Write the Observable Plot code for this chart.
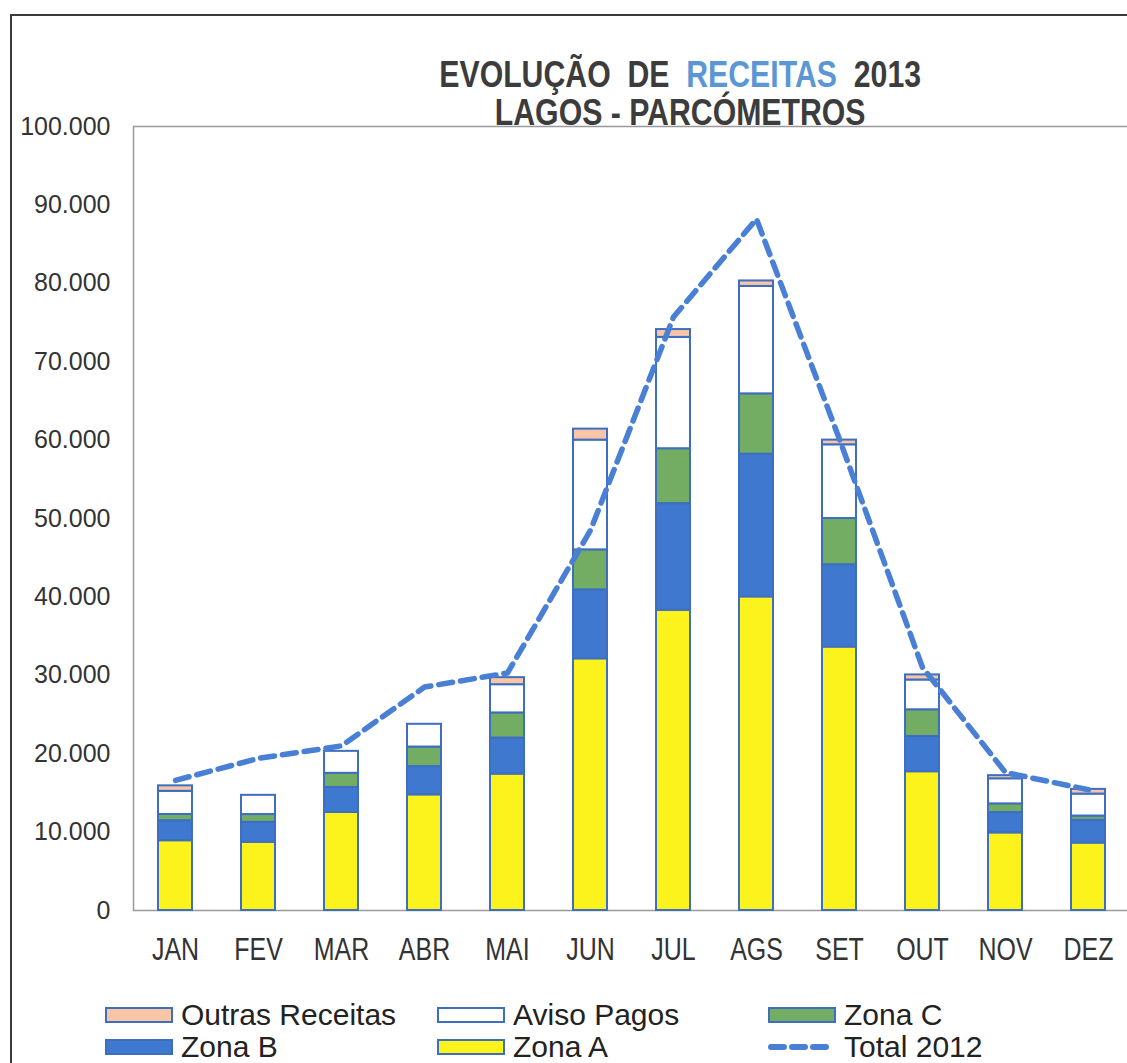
<!DOCTYPE html>
<html>
<head>
<meta charset="utf-8">
<script src="https://cdn.jsdelivr.net/npm/d3@7"></script>
<script src="https://cdn.jsdelivr.net/npm/@observablehq/plot@0.6"></script>
<style>
  html, body { margin: 0; padding: 0; background: #fff; overflow: hidden; }
  #wrap { position: relative; width: 1127px; height: 1063px; overflow: hidden; }
  #border { position: absolute; left: 10px; top: 14px; width: 1200px; height: 1200px; border: 2px solid #3a3a3a; box-sizing: border-box; }
  .tline { position: absolute; left: 330px; width: 700px; text-align: center;
    font-family: "Liberation Sans", Arial, sans-serif; font-weight: bold;
    font-size: 36px; line-height: 40px; color: #3c3c3c; transform: scaleX(0.84); transform-origin: 351px 50%; white-space: nowrap; }
  .tline .hl { color: #5b97d4; }
  #chart { position: absolute; left: 0; top: 100px; width: 1140px; height: 870px; }
  .leg { position: absolute; display: flex; align-items: center; font-family: "Liberation Sans", Arial, sans-serif;
    font-size: 30px; color: #222; white-space: nowrap; }
  .leg svg { margin-right: 8px; }
</style>
</head>
<body>
<div id="wrap">
  <div id="border"></div>
  <div class="tline" style="top:55px">EVOLUÇÃO&nbsp; DE&nbsp; <span class="hl">RECEITAS</span>&nbsp; 2013</div>
  <div class="tline" style="top:93px">LAGOS - PARCÓMETROS</div>
  <div id="chart"></div>
  <div id="legend"></div>
</div>
<script>
const months = ["JAN","FEV","MAR","ABR","MAI","JUN","JUL","AGS","SET","OUT","NOV","DEZ"];
const zonaA  = [8900, 8700, 12500, 14750, 17400, 32100, 38300, 40000, 33600, 17700, 9900, 8600];
const zonaB  = [2550, 2550, 3200, 3600, 4600, 8800, 13600, 18200, 10500, 4500, 2600, 2900];
const zonaC  = [800, 990, 1800, 2500, 3200, 5100, 7000, 7700, 5900, 3400, 1100, 550];
const aviso  = [2950, 2450, 2800, 2900, 3600, 14000, 14200, 13700, 9400, 3800, 3200, 2800];
const outras = [700, 0, 0, 0, 900, 1400, 1000, 700, 600, 650, 400, 600];
const total2012 = [16600, 19400, 21000, 28500, 30300, 48500, 75700, 88200, 60100, 31000, 17600, 15400];
const seriesNames = ["Zona A", "Zona B", "Zona C", "Aviso Pagos", "Outras Receitas"];
const seriesColors = ["#fcf21c", "#3f79cf", "#73ad63", "#ffffff", "#f8c6a6"];
const yTicks = [0, 10000, 20000, 30000, 40000, 50000, 60000, 70000, 80000, 90000, 100000];

const seriesValues = [zonaA, zonaB, zonaC, aviso, outras];
const rows = [];
months.forEach((m, i) => seriesNames.forEach((s, j) => rows.push({month: m, series: s, value: seriesValues[j][i]})));
const lineRows = months.map((m, i) => ({month: m, value: total2012[i]}));

const fmt = d => d3.format(",")(d).replace(/,/g, ".");

const chart = Plot.plot({
  width: 1140,
  height: 870,
  marginTop: 26,
  marginBottom: 60,
  marginLeft: 133,
  marginRight: 10,
  style: {background: "transparent", overflow: "visible", maxWidth: "none", width: "1140px", height: "870px"},
  x: {domain: months, paddingInner: 0.59, paddingOuter: 0.295, label: null, tickSize: 0, tickPadding: 27},
  y: {domain: [0, 100000], ticks: yTicks, tickFormat: fmt, label: null, tickSize: 0, tickPadding: 23},
  color: {domain: seriesNames, range: seriesColors},
  marks: [
    Plot.frame({stroke: "#9a9a9a", strokeWidth: 1.5}),
    Plot.barY(rows, Plot.stackY({order: seriesNames}, {x: "month", y: "value", fill: "series", stroke: "#3d6ec0", strokeWidth: 2})),
    Plot.line(lineRows, {x: "month", y: "value", stroke: "#4a7fd6", strokeWidth: 5.5, strokeDasharray: "14,8", strokeLinecap: "round"})
  ]
});
document.getElementById("chart").appendChild(chart);

chart.querySelectorAll("g[aria-label='y-axis tick label'] text").forEach(t => {
  t.style.fontFamily = "'Liberation Sans', Arial, sans-serif";
  t.style.fontSize = "25px";
  t.style.fill = "#333";
});

// narrow (condensed) x tick labels: wrap each text in a horizontally scaled group around its centre
const xTexts = Array.from(chart.querySelectorAll("g[aria-label='x-axis tick label'] text"));
xTexts.forEach(t => {
  t.style.fontFamily = "'Liberation Sans', Arial, sans-serif";
  t.style.fontSize = "32px";
  t.style.fill = "#333";
});
xTexts.forEach(t => {
  const r = t.getBoundingClientRect();
  const parent = t.parentNode;
  const ctm = parent.getScreenCTM();
  const cx = (r.left + r.width / 2 - ctm.e) / ctm.a;
  const g = document.createElementNS("http://www.w3.org/2000/svg", "g");
  g.setAttribute("transform", `translate(${cx},0) scale(0.78,1) translate(${-cx},0)`);
  parent.insertBefore(g, t);
  g.appendChild(t);
});

// Legend
const legendItems = [
  {label: "Outras Receitas", type: "rect", color: "#f8c6a6", x: 105, y: 1015},
  {label: "Aviso Pagos", type: "rect", color: "#ffffff", x: 437, y: 1015},
  {label: "Zona C", type: "rect", color: "#73ad63", x: 768, y: 1015},
  {label: "Zona B", type: "rect", color: "#3f79cf", x: 105, y: 1047},
  {label: "Zona A", type: "rect", color: "#fcf21c", x: 437, y: 1047},
  {label: "Total 2012", type: "line", color: "#4a7fd6", x: 768, y: 1047}
];
const leg = document.getElementById("legend");
legendItems.forEach(it => {
  const d = document.createElement("div");
  d.className = "leg";
  d.style.left = it.x + "px";
  d.style.top = (it.y - 17) + "px";
  d.style.height = "34px";
  d.style.lineHeight = "34px";
  const sw = it.type === "rect"
    ? `<svg width="68" height="16"><rect x="1" y="1" width="66" height="14" fill="${it.color}" stroke="#3d6ec0" stroke-width="2"/></svg>`
    : `<svg width="68" height="16"><line x1="3" y1="8" x2="66" y2="8" stroke="${it.color}" stroke-width="6" stroke-dasharray="13,8" stroke-linecap="round"/></svg>`;
  d.innerHTML = sw + `<span>${it.label}</span>`;
  leg.appendChild(d);
});
</script>
</body>
</html>
